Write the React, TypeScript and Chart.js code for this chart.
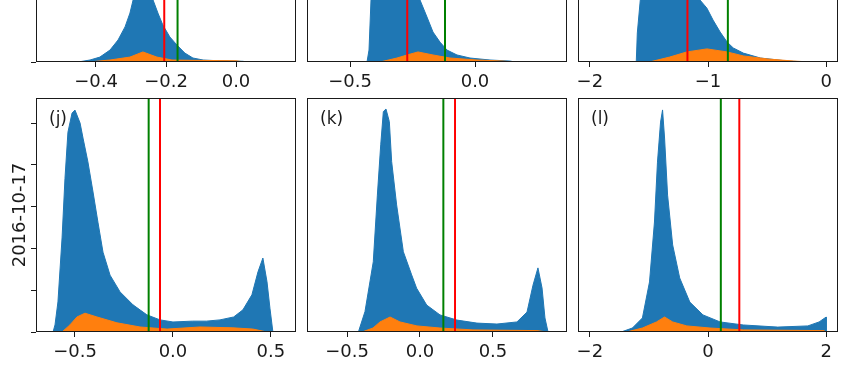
import React, { useEffect, useRef } from 'react';
import { Chart, registerables } from 'chart.js';

Chart.register(...registerables);

const FONT = "'DejaVu Sans', 'Liberation Sans', sans-serif";
const BLUE = '#1f77b4';
const ORANGE = '#ff7f0e';
const GREEN = '#008000';
const RED = '#ff0000';
const INK = '#1a1a1a';

// ---------- Panel (g): top-left ----------
const gBlueX = [-0.451, -0.417, -0.389, -0.36, -0.337, -0.317, -0.303, -0.294, -0.28, -0.265, -0.25, -0.237, -0.223, -0.209, -0.189, -0.169, -0.146, -0.123, -0.094, -0.06, -0.02, 0.02, 0.03];
const gBlueY = [0, 0.85, 2.1, 5.1, 9.4, 15, 20.9, 26.5, 50, 95, 55, 26.5, 20.9, 15.8, 10.7, 7.3, 3.8, 1.7, 0.85, 0.6, 0.45, 0.3, 0];
const gOrangeX = [-0.42, -0.36, -0.303, -0.266, -0.226, -0.183, -0.12, -0.05, 0.0, 0.026];
const gOrangeY = [0, 0.85, 2.1, 4.3, 2.1, 0.85, 0.7, 0.6, 0.5, 0];
const gGreen = -0.167;
const gRed = -0.205;
const gTicks = [-0.4, -0.2, 0.0];
const gTickLabels = ['\u22120.4', '\u22120.2', '0.0'];

// ---------- Panel (h): top-middle ----------
const hBlueX = [-0.432, -0.424, -0.416, -0.4, -0.35, -0.3, -0.26, -0.22, -0.192, -0.168, -0.14, -0.112, -0.072, -0.02, 0.06, 0.14, 0.16];
const hBlueY = [0, 5.1, 26.5, 70, 95, 80, 50, 26.5, 19.2, 12.8, 8.5, 5.1, 3.0, 1.7, 0.85, 0.4, 0];
const hOrangeX = [-0.38, -0.312, -0.272, -0.228, -0.168, -0.1, 0.008, 0.112, 0.152];
const hOrangeY = [0, 1.7, 3.0, 4.3, 3.0, 1.7, 0.85, 0.4, 0];
const hGreen = -0.12;
const hRed = -0.271;
const hTicks = [-0.5, 0.0];
const hTickLabels = ['\u22120.5', '0.0'];

// ---------- Panel (i): top-right ----------
const iBlueX = [-1.607, -1.598, -1.573, -1.5, -1.4, -1.3, -1.2, -1.068, -1.009, -0.957, -0.897, -0.838, -0.786, -0.701, -0.556, -0.325, -0.154];
const iBlueY = [0, 12.4, 26.5, 90, 95, 75, 50, 26.5, 23, 17.9, 12.8, 8.5, 6, 3.8, 1.7, 0.4, 0];
const iOrangeX = [-1.496, -1.325, -1.18, -1.009, -0.838, -0.701, -0.496, -0.274, -0.128];
const iOrangeY = [0, 2.1, 4.3, 5.6, 4.3, 2.6, 1.3, 0.4, 0];
const iGreen = -0.832;
const iRed = -1.174;
const iTicks = [-2, -1, 0];
const iTickLabels = ['\u22122', '\u22121', '0'];

// ---------- Panel (j): bottom-left (2016-10-17) ----------
const jBlueX = [-0.612, -0.602, -0.587, -0.566, -0.551, -0.536, -0.515, -0.5, -0.474, -0.459, -0.434, -0.408, -0.383, -0.357, -0.321, -0.27, -0.204, -0.133, -0.066, 0, 0.1, 0.17, 0.24, 0.31, 0.357, 0.403, 0.434, 0.459, 0.48, 0.495, 0.51];
const jBlueY = [0, 0.17, 0.72, 2.25, 3.68, 4.78, 5.24, 5.31, 5.0, 4.64, 4.07, 3.35, 2.63, 1.91, 1.36, 0.96, 0.65, 0.41, 0.29, 0.24, 0.26, 0.26, 0.29, 0.36, 0.53, 0.89, 1.44, 1.77, 1.2, 0.57, 0];
const jOrangeX = [-0.566, -0.526, -0.49, -0.449, -0.388, -0.286, -0.168, -0.03, 0.138, 0.306, 0.408, 0.48];
const jOrangeY = [0, 0.17, 0.36, 0.45, 0.36, 0.22, 0.12, 0.07, 0.12, 0.1, 0.07, 0];
const jGreen = -0.124;
const jRed = -0.066;
const jTicks = [-0.5, 0.0, 0.5];
const jTickLabels = ['\u22120.5', '0.0', '0.5'];
const jYTicks = [0, 1, 2, 3, 4, 5];

// ---------- Panel (k): bottom-middle ----------
const kBlueX = [-0.422, -0.377, -0.32, -0.292, -0.269, -0.251, -0.233, -0.21, -0.194, -0.16, -0.114, -0.057, -0.023, 0.046, 0.137, 0.253, 0.39, 0.527, 0.664, 0.733, 0.774, 0.808, 0.836, 0.856, 0.877];
const kBlueY = [0, 8.7, 30, 58.5, 80, 94.2, 95.3, 89.9, 72.8, 54.3, 34.3, 24.4, 18.7, 11.5, 7.3, 5.1, 3.8, 3.4, 4.3, 8.5, 20, 27.4, 18.8, 6, 0];
const kOrangeX = [-0.397, -0.322, -0.274, -0.205, -0.137, -0.021, 0.137, 0.363, 0.801, 0.87];
const kOrangeY = [0, 1.7, 4.3, 6.4, 4.3, 2.6, 1.7, 0.9, 0.6, 0];
const kGreen = 0.16;
const kRed = 0.24;
const kTicks = [-0.5, 0.0, 0.5];
const kTickLabels = ['\u22120.5', '0.0', '0.5'];

// ---------- Panel (l): bottom-right ----------
const lBlueX = [-1.47, -1.28, -1.11, -0.99, -0.906, -0.855, -0.803, -0.769, -0.735, -0.684, -0.598, -0.479, -0.308, -0.085, 0.205, 0.598, 1.18, 1.69, 1.88, 2.0, 2.0];
const lBlueY = [0, 1.7, 6, 21.4, 47, 72.6, 89.7, 94.9, 82.9, 58.5, 37.2, 23.1, 12.8, 7.3, 4.3, 3, 2.1, 2.6, 4.3, 6.4, 0];
const lOrangeX = [-1.38, -1.11, -0.872, -0.735, -0.598, -0.359, 0.034, 0.598, 1.96, 2.0];
const lOrangeY = [0, 1.7, 4.3, 6.4, 4.3, 2.6, 1.7, 0.9, 0.6, 0];
const lGreen = 0.217;
const lRed = 0.53;
const lTicks = [-2, 0, 2];
const lTickLabels = ['\u22122', '0', '2'];

// ---------- layout ----------
const PADL = 36;
const PADR = 14;
const PADT = 8;
const PADB = 40;
const AREA_W = 260;
const AREA_H = 234;

type Panel = {
  letter: string;
  left: number;
  top: number;
  xMin: number;
  xMax: number;
  yMax: number;
  ticks: number[];
  tickLabels: string[];
  yTicks: number[];
  yTitle: string;
  blueX: number[];
  blueY: number[];
  orangeX: number[];
  orangeY: number[];
  green: number;
  red: number;
};

const PANELS: Panel[] = [
  { letter: '(g)', left: 36, top: -172, xMin: -0.5714, xMax: 0.1714, yMax: 100, ticks: gTicks, tickLabels: gTickLabels, yTicks: [0, 40, 80], yTitle: '', blueX: gBlueX, blueY: gBlueY, orangeX: gOrangeX, orangeY: gOrangeY, green: gGreen, red: gRed },
  { letter: '(h)', left: 307, top: -172, xMin: -0.672, xMax: 0.368, yMax: 100, ticks: hTicks, tickLabels: hTickLabels, yTicks: [], yTitle: '', blueX: hBlueX, blueY: hBlueY, orangeX: hOrangeX, orangeY: hOrangeY, green: hGreen, red: hRed },
  { letter: '(i)', left: 578, top: -172, xMin: -2.1, xMax: 0.1, yMax: 100, ticks: iTicks, tickLabels: iTickLabels, yTicks: [], yTitle: '', blueX: iBlueX, blueY: iBlueY, orangeX: iOrangeX, orangeY: iOrangeY, green: iGreen, red: iRed },
  { letter: '(j)', left: 36, top: 98, xMin: -0.699, xMax: 0.628, yMax: 5.6, ticks: jTicks, tickLabels: jTickLabels, yTicks: jYTicks, yTitle: '2016-10-17', blueX: jBlueX, blueY: jBlueY, orangeX: jOrangeX, orangeY: jOrangeY, green: jGreen, red: jRed },
  { letter: '(k)', left: 307, top: 98, xMin: -0.774, xMax: 1.007, yMax: 100, ticks: kTicks, tickLabels: kTickLabels, yTicks: [], yTitle: '', blueX: kBlueX, blueY: kBlueY, orangeX: kOrangeX, orangeY: kOrangeY, green: kGreen, red: kRed },
  { letter: '(l)', left: 578, top: 98, xMin: -2.2, xMax: 2.2, yMax: 100, ticks: lTicks, tickLabels: lTickLabels, yTicks: [], yTitle: '', blueX: lBlueX, blueY: lBlueY, orangeX: lOrangeX, orangeY: lOrangeY, green: lGreen, red: lRed },
];

const toPts = (xs: number[], ys: number[]) => xs.map((x, i) => ({ x, y: ys[i] }));

const boxPlugin = {
  id: 'panelBox',
  afterDatasetsDraw(chart: any, _args: any, opts: any) {
    const { ctx, chartArea } = chart;
    const { left, top, right, bottom } = chartArea;
    ctx.save();
    ctx.strokeStyle = INK;
    ctx.lineWidth = 1;
    ctx.strokeRect(left + 0.5, top + 0.5, right - left - 1, bottom - top - 1);
    if (opts && opts.letter) {
      ctx.fillStyle = INK;
      ctx.font = `17px ${FONT}`;
      ctx.textBaseline = 'middle';
      ctx.textAlign = 'left';
      ctx.fillText(opts.letter, left + 13, top + 22);
    }
    ctx.restore();
  },
};

function PanelChart({ p }: { p: Panel }) {
  const ref = useRef<HTMLCanvasElement | null>(null);
  const W = PADL + AREA_W + PADR;
  const H = PADT + AREA_H + PADB;

  useEffect(() => {
    if (!ref.current) return;
    const hasYTicks = p.yTicks.length > 0;
    const chart = new Chart(ref.current, {
      type: 'line',
      data: {
        datasets: [
          { label: 'red', data: [{ x: p.red, y: 0 }, { x: p.red, y: p.yMax }], borderColor: RED, borderWidth: 2, pointRadius: 0, fill: false, order: 0 },
          { label: 'green', data: [{ x: p.green, y: 0 }, { x: p.green, y: p.yMax }], borderColor: GREEN, borderWidth: 2, pointRadius: 0, fill: false, order: 1 },
          { label: 'orange', data: toPts(p.orangeX, p.orangeY), borderColor: ORANGE, backgroundColor: ORANGE, borderWidth: 1, pointRadius: 0, fill: 'origin', tension: 0, order: 2 },
          { label: 'blue', data: toPts(p.blueX, p.blueY), borderColor: BLUE, backgroundColor: BLUE, borderWidth: 1, pointRadius: 0, fill: 'origin', tension: 0, order: 3 },
        ] as any,
      },
      options: {
        animation: false,
        responsive: false,
        devicePixelRatio: 1,
        events: [],
        layout: { padding: { top: PADT, right: PADR, left: 0, bottom: 0 } },
        plugins: {
          legend: { display: false },
          tooltip: { enabled: false },
          title: { display: false },
          panelBox: { letter: p.letter },
        } as any,
        scales: {
          x: {
            type: 'linear',
            min: p.xMin,
            max: p.xMax,
            bounds: 'data',
            afterBuildTicks: (s: any) => { s.ticks = p.ticks.map((v) => ({ value: v })); },
            afterFit: (s: any) => { s.height = PADB; },
            grid: { display: true, drawOnChartArea: false, drawTicks: true, tickLength: 5, tickColor: INK, tickWidth: 1 },
            border: { display: false },
            ticks: {
              font: { family: FONT, size: 18 },
              color: INK,
              padding: 5,
              maxRotation: 0,
              autoSkip: false,
              callback: (v: any) => {
                const idx = p.ticks.findIndex((t) => Math.abs(t - Number(v)) < 1e-9);
                return idx >= 0 ? p.tickLabels[idx] : '';
              },
            },
          },
          y: {
            type: 'linear',
            min: 0,
            max: p.yMax,
            bounds: 'data',
            afterBuildTicks: (s: any) => { s.ticks = (hasYTicks ? p.yTicks : [0]).map((v) => ({ value: v })); },
            afterFit: (s: any) => { s.width = PADL; },
            grid: { display: hasYTicks, drawOnChartArea: false, drawTicks: hasYTicks, tickLength: 5, tickColor: INK, tickWidth: 1 },
            border: { display: false },
            ticks: { display: false },
            title: {
              display: !!p.yTitle,
              text: p.yTitle,
              font: { family: FONT, size: 18 },
              color: INK,
              padding: { top: 10, bottom: 0 },
            },
          },
        },
      } as any,
      plugins: [boxPlugin],
    });
    return () => chart.destroy();
  }, [p]);

  return (
    <div style={{ position: 'absolute', left: p.left - PADL, top: p.top - PADT, width: W, height: H }}>
      <canvas ref={ref} width={W} height={H} style={{ width: W, height: H, display: 'block' }} />
    </div>
  );
}

export default function App() {
  return (
    <div style={{ position: 'fixed', left: 0, top: 0, width: 850, height: 373, overflow: 'hidden', background: '#fff' }}>
      {PANELS.map((p) => (
        <PanelChart key={p.letter} p={p} />
      ))}
    </div>
  );
}
